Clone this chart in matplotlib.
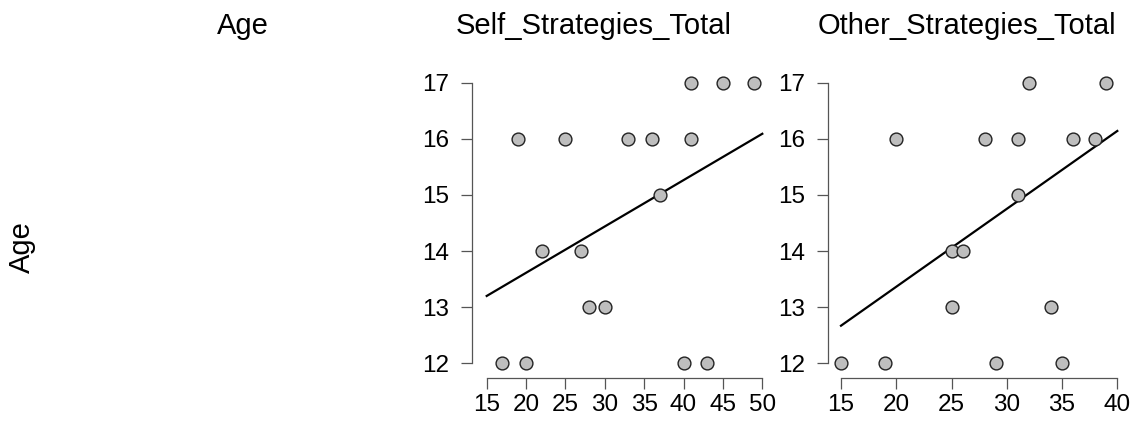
import numpy as np
import matplotlib
matplotlib.use("Agg")
import matplotlib.pyplot as plt

plt.rcParams['font.family'] = ['Liberation Sans', 'DejaVu Sans']

row_label = "Age"
col_labels = ["Age", "Self_Strategies_Total", "Other_Strategies_Total"]

self_x = [41, 45, 49, 19, 25, 33, 36, 41, 37, 22, 27, 28, 30, 17, 20, 40, 43]
self_y = [17, 17, 17, 16, 16, 16, 16, 16, 15, 14, 14, 13, 13, 12, 12, 12, 12]

other_x = [32, 39, 20, 28, 31, 36, 38, 31, 25, 26, 25, 34, 15, 19, 29, 35]
other_y = [17, 17, 16, 16, 16, 16, 16, 15, 14, 14, 13, 13, 12, 12, 12, 12]

# fitted regression line, read at the ends of each x axis
self_fit_x = [15, 50]
self_fit_y = [13.2, 16.09]
other_fit_x = [15, 40]
other_fit_y = [12.67, 16.14]

self_xticks = [15, 20, 25, 30, 35, 40, 45, 50]
other_xticks = [15, 20, 25, 30, 35, 40]
yticks = [12, 13, 14, 15, 16, 17]

W, H = 1132, 423
fig = plt.figure(figsize=(W / 100, H / 100), dpi=100)

def px_axes(x0, x1, ytop, ybot):
    return fig.add_axes([x0 / W, (H - ybot) / H, (x1 - x0) / W, (ybot - ytop) / H])

spine_col = '#555555'

def panel(ax, xs, ys, fx, fy, xticks, left_off_px, bottom_off_px):
    ax.set_xlim(xticks[0], xticks[-1])
    ax.set_ylim(yticks[0], yticks[-1])
    ax.scatter(xs, ys, s=85, facecolor='#bebebe', edgecolor='#222222', linewidth=1.0,
               zorder=3, clip_on=False)
    ax.plot(fx, fy, color='black', lw=1.6, zorder=2, clip_on=False)
    for s in ['top', 'right']:
        ax.spines[s].set_visible(False)
    ax.spines['left'].set_position(('outward', left_off_px * 0.72))
    ax.spines['bottom'].set_position(('outward', bottom_off_px * 0.72))
    ax.spines['left'].set_bounds(yticks[0], yticks[-1])
    ax.spines['bottom'].set_bounds(xticks[0], xticks[-1])
    for s in ['left', 'bottom']:
        ax.spines[s].set_color(spine_col)
        ax.spines[s].set_linewidth(0.9)
    ax.set_xticks(xticks)
    ax.set_yticks(yticks)
    ax.tick_params(axis='both', direction='out', length=8, width=0.9, color=spine_col,
                   labelsize=17.5)
    ax.tick_params(axis='x', pad=3)
    ax.tick_params(axis='y', pad=8.5)
    ax.patch.set_alpha(0)

ax1 = px_axes(486.7, 762.3, 82.7, 363.3)
panel(ax1, self_x, self_y, self_fit_x, self_fit_y, self_xticks, 15, 15)

ax2 = px_axes(841, 1117.3, 82.7, 363.3)
panel(ax2, other_x, other_y, other_fit_x, other_fit_y, other_xticks, 12.7, 15)

title_y = 1 - 26 / H
fs_title = 21
fig.text(243 / W, title_y, col_labels[0], ha='center', va='center', fontsize=fs_title)
fig.text(594 / W, title_y, col_labels[1], ha='center', va='center', fontsize=fs_title)
fig.text(967 / W, title_y, col_labels[2], ha='center', va='center', fontsize=fs_title)
fig.text(22 / W, 1 - 247 / H, row_label, ha='center', va='center', rotation=90, fontsize=fs_title)

fig.savefig('out.png', dpi=100)
